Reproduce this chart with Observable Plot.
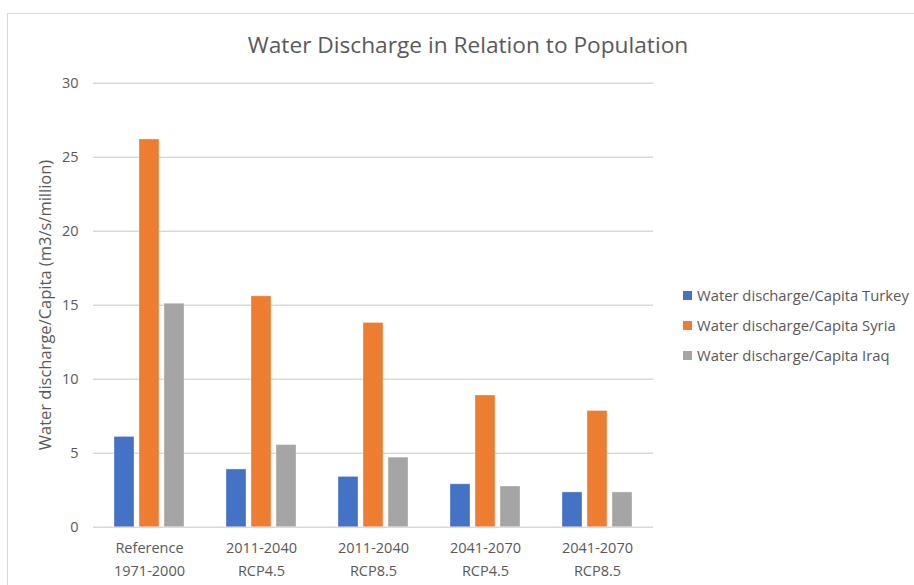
<!DOCTYPE html>
<html>
<head>
<meta charset="utf-8">
<script src="https://cdn.jsdelivr.net/npm/d3@7"></script>
<script src="https://cdn.jsdelivr.net/npm/@observablehq/plot@0.6"></script>
<style>
  html, body { margin: 0; padding: 0; background: #fff; }
  #chart {
    position: relative; width: 914px; height: 585px; overflow: hidden;
    font-family: "Open Sans", "Noto Sans", sans-serif; color: #595959;
  }
  #frame {
    position: absolute; left: 7px; top: 13px; width: 1000px; height: 700px;
    border-left: 1.5px solid #d9d9d9; border-top: 1.5px solid #d9d9d9;
  }
  #plot { position: absolute; left: 0; top: 0; }
  #title {
    position: absolute; left: 0; width: 936px; top: 29px; text-align: center;
    font-size: 22.7px; color: #595959;
  }
  #ylabel {
    position: absolute; left: 44px; top: 305px; white-space: nowrap;
    transform: translate(-50%, -50%) rotate(-90deg); font-size: 16.5px;
  }
  #legend { position: absolute; left: 683px; top: 280px; font-size: 14.8px; }
  .item { height: 30px; display: flex; align-items: center; }
  .swatch { width: 9px; height: 9px; margin-right: 5px; }
</style>
</head>
<body>
<div id="chart">
  <div id="frame"></div>
  <div id="plot"></div>
  <div id="title">Water Discharge in Relation to Population</div>
  <div id="ylabel">Water discharge/Capita (m3/s/million)</div>
  <div id="legend"></div>
</div>
<script>
// Scenario periods along the horizontal axis
const periods = [
  "Reference 1971-2000",
  "2011-2040 RCP4.5",
  "2011-2040 RCP8.5",
  "2041-2070 RCP4.5",
  "2041-2070 RCP8.5"
];
const periodLines = [
  "Reference\n1971-2000",
  "2011-2040\nRCP4.5",
  "2011-2040\nRCP8.5",
  "2041-2070\nRCP4.5",
  "2041-2070\nRCP8.5"
];

// Water discharge per capita (m3/s/million) by country
const turkey = [6.1, 3.9, 3.4, 2.9, 2.35];
const syria  = [26.2, 15.6, 13.8, 8.9, 7.85];
const iraq   = [15.1, 5.55, 4.7, 2.75, 2.35];

const seriesNames = [
  "Water discharge/Capita Turkey",
  "Water discharge/Capita Syria",
  "Water discharge/Capita Iraq"
];
const seriesColors = ["#4472C4", "#ED7D31", "#A5A5A5"];
const yTicks = [0, 5, 10, 15, 20, 25, 30];

const seriesValues = [turkey, syria, iraq];
const rows = [];
periods.forEach((p, i) => {
  seriesNames.forEach((s, j) => rows.push({period: p, series: s, value: seriesValues[j][i]}));
});

const labelOf = new Map(periods.map((p, i) => [p, periodLines[i]]));

const plot = Plot.plot({
  width: 914,
  height: 585,
  marginLeft: 92,
  marginRight: 260,
  marginTop: 82.7,
  marginBottom: 58.3,
  style: {fontFamily: "'Open Sans', 'Noto Sans', sans-serif", color: "#595959", background: "transparent"},
  fx: {domain: periods, paddingInner: 0, paddingOuter: 0, label: null},
  x: {domain: seriesNames, paddingInner: 0.22, paddingOuter: 0.85, axis: null},
  y: {domain: [0, 30], label: null},
  color: {domain: seriesNames, range: seriesColors},
  marks: [
    Plot.ruleY(yTicks, {stroke: "#d9d9d9", strokeWidth: 1.4}),
    Plot.barY(rows, {
      fx: "period", x: "series", y: "value", fill: "series",
      stroke: "#ffffff", strokeOpacity: 0.35, strokeWidth: 1
    }),
    Plot.axisY({
      ticks: yTicks, tickSize: 0, tickPadding: 15, fontSize: 14.5,
      label: null, fill: "#595959"
    }),
    Plot.axisFx({
      anchor: "bottom", tickSize: 0, tickPadding: 9, fontSize: 14.5,
      lineHeight: 1.59, label: null, fill: "#595959",
      tickFormat: (d) => labelOf.get(d)
    })
  ]
});
document.getElementById("plot").appendChild(plot);

// Legend entries
const legend = d3.select("#legend");
seriesNames.forEach((name, i) => {
  const item = legend.append("div").attr("class", "item");
  item.append("div").attr("class", "swatch").style("background", seriesColors[i]);
  item.append("span").text(name);
});
</script>
</body>
</html>
